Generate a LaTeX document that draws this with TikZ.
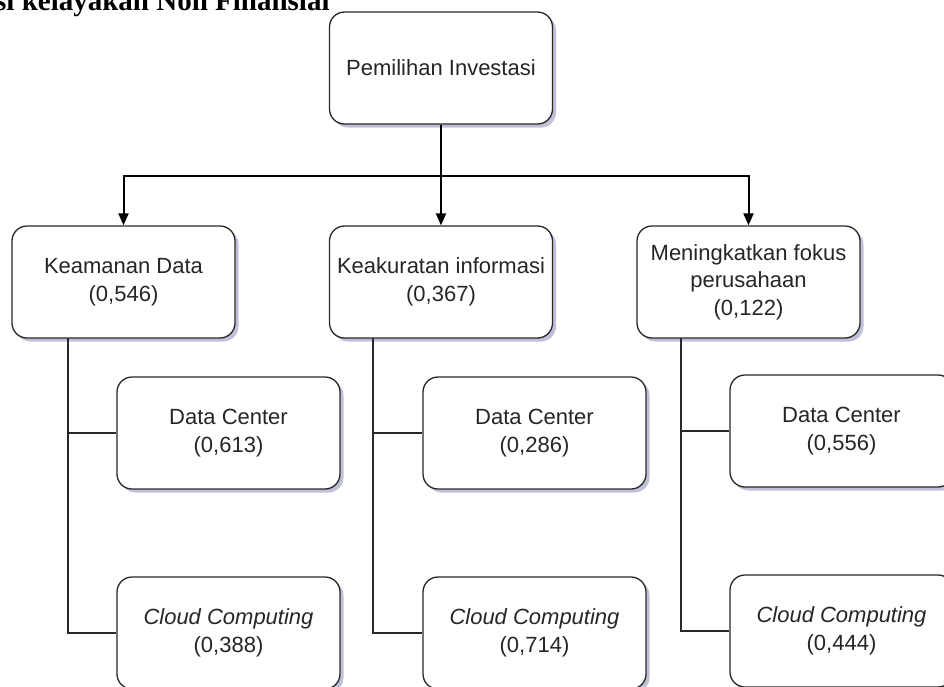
\documentclass[tikz,border=0pt]{standalone}
\usepackage{fontspec}
\setmainfont{Liberation Sans}
\newfontfamily\judulfont{Liberation Serif}
\usetikzlibrary{arrows.meta,shadows}
\definecolor{bayang}{RGB}{150,150,195}
\definecolor{tinta}{RGB}{40,40,40}
\tikzset{
    kotak/.style={draw=tinta, line width=1.3pt, rounded corners=15pt, fill=white,
        minimum width=223pt, minimum height=112pt, align=center, text=black!85,
        font=\fontsize{22}{27.5}\selectfont,
        drop shadow={shadow xshift=3.5pt, shadow yshift=-3.5pt, fill=bayang, opacity=0.6}},
    panah/.style={-{Triangle[length=12pt,width=10pt]}, line width=2pt, black},
    garis/.style={line width=1.3pt, tinta},
}

\begin{document}
\begin{tikzpicture}[x=1pt,y=-1pt]
        \useasboundingbox (0,0) rectangle (944,686);
        % judul yang terpotong di atas
        \node[anchor=base west, inner sep=0pt, font=\judulfont\bfseries\fontsize{29}{29}\selectfont] (judul) at (-5,10) {si kelayakan Non Finansial};
        % tujuan
        \node[kotak] (tujuan) at (441,68) {Pemilihan Investasi};
        % kriteria
        \node[kotak] (kriteria1) at (123.5,282) {Keamanan Data\\(0,546)};
        \node[kotak] (kriteria2) at (441,282) {Keakuratan informasi\\(0,367)};
        \node[kotak] (kriteria3) at (748.5,282) {Meningkatkan fokus\\perusahaan\\(0,122)};
        % alternatif
        \node[kotak] (dc1) at (228.5,433) {Data Center\\(0,613)};
        \node[kotak] (dc2) at (534.5,433) {Data Center\\(0,286)};
        \node[kotak] (dc3) at (841.5,431) {Data Center\\(0,556)};
        \node[kotak] (cc1) at (228.5,633) {\textit{Cloud Computing}\\(0,388)};
        \node[kotak] (cc2) at (534.5,633) {\textit{Cloud Computing}\\(0,714)};
        \node[kotak] (cc3) at (841.5,631) {\textit{Cloud Computing}\\(0,444)};
        % percabangan dari tujuan
        \coordinate (cabang) at (441,176);
        \draw[line width=2pt] (tujuan.south) -- (cabang);
        \draw[panah] (cabang) -| (kriteria1.north);
        \draw[panah] (cabang) -- (kriteria2.north);
        \draw[panah] (cabang) -| (kriteria3.north);
        % batang ke alternatif
        \coordinate (batang1) at (68,338);
        \coordinate (batang2) at (373,338);
        \coordinate (batang3) at (681,338);
        \draw[garis] (batang1) |- (dc1.west);
        \draw[garis] (batang1) |- (cc1.west);
        \draw[garis] (batang2) |- (dc2.west);
        \draw[garis] (batang2) |- (cc2.west);
        \draw[garis] (batang3) |- (dc3.west);
        \draw[garis] (batang3) |- (cc3.west);
    \end{tikzpicture}
\end{document}
